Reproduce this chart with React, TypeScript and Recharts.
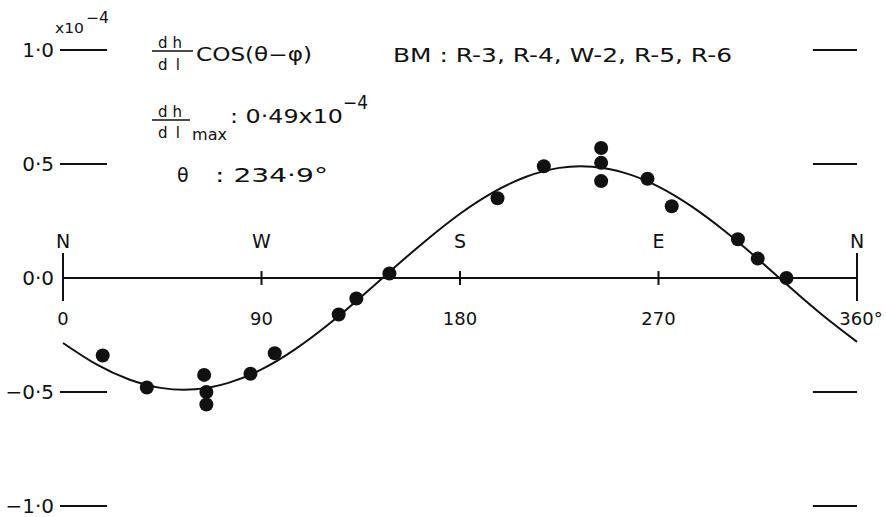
import React from 'react';
import {
  ComposedChart,
  Line,
  Scatter,
  XAxis,
  YAxis,
  ReferenceLine,
} from 'recharts';

// ---- data ----
const CURVE_THETA = [0, 15, 30, 45, 60, 75, 90, 105, 120, 135, 150, 165, 180, 195, 210, 225, 240, 255, 270, 285, 300, 315, 330, 345, 360];
const CURVE_VALUE = [-0.285, -0.378, -0.445, -0.483, -0.488, -0.46, -0.401, -0.314, -0.206, -0.084, 0.044, 0.168, 0.282, 0.376, 0.444, 0.483, 0.488, 0.46, 0.401, 0.314, 0.206, 0.084, -0.044, -0.168, -0.28];

const OBS_THETA = [18, 38, 64, 65, 65, 85, 96, 125, 133, 148, 197, 218, 244, 244, 244, 265, 276, 306, 315, 328];
const OBS_VALUE = [-0.34, -0.48, -0.425, -0.5, -0.555, -0.42, -0.33, -0.16, -0.09, 0.02, 0.35, 0.49, 0.57, 0.505, 0.425, 0.435, 0.315, 0.17, 0.085, 0.0];

const X_TICKS = [0, 90, 180, 270, 360];
const X_TICK_LABELS = ['0', '90', '180', '270', '360°'];
const COMPASS_LABELS = ['N', 'W', 'S', 'E', 'N'];

const Y_TICKS = [-1, -0.5, 0, 0.5, 1];
const Y_TICK_LABELS = ['−1·0', '−0·5', '0·0', '0·5', '1·0'];
const SIDE_MARKS = [-1, -0.5, 0.5, 1];

// ---- tables built from the arrays ----
const curveData = CURVE_THETA.map((t, i) => ({ theta: t, value: CURVE_VALUE[i] }));
const obsData = OBS_THETA.map((t, i) => ({ theta: t, value: OBS_VALUE[i] }));
const axisTickData = X_TICKS.map((t, i) => ({
  theta: t,
  value: 0,
  label: X_TICK_LABELS[i],
  compass: COMPASS_LABELS[i],
  end: i === 0 || i === X_TICKS.length - 1,
}));

const INK = '#111';
const FONT = '"DejaVu Sans", sans-serif';

const YTick = (props: any) => {
  const { x, y, payload } = props;
  const idx = Y_TICKS.indexOf(payload.value);
  const label = idx >= 0 ? Y_TICK_LABELS[idx] : '';
  return (
    <g>
      <text x={x - 9} y={y + 7} textAnchor="end" fontSize={20} fontFamily={FONT} fill={INK}>
        {label}
      </text>
      {payload.value !== 0 && (
        <line x1={x - 3} x2={x + 44} y1={y} y2={y} stroke={INK} strokeWidth={2} />
      )}
    </g>
  );
};

const AxisTickShape = (props: any) => {
  const { cx, cy, payload } = props;
  const up = payload.end ? 25 : 7;
  const down = payload.end ? 23 : 7;
  return (
    <g>
      <line x1={cx} x2={cx} y1={cy - up} y2={cy + down} stroke={INK} strokeWidth={2} />
      <text x={cx} y={cy - 30} textAnchor="middle" fontSize={19} fontFamily={FONT} fill={INK}>
        {payload.compass}
      </text>
      <text x={cx + (payload.label.endsWith('°') ? 4 : 0)} y={cy + 47} textAnchor="middle" fontSize={18} fontFamily={FONT} fill={INK}>
        {payload.label}
      </text>
    </g>
  );
};

const DotShape = (props: any) => {
  const { cx, cy } = props;
  return <circle cx={cx} cy={cy} r={7} fill={INK} />;
};

const Overlay = () => (
  <svg
    width={886}
    height={517}
    style={{ position: 'absolute', left: 0, top: 0, pointerEvents: 'none' }}
    fontFamily={FONT}
    fill={INK}
  >
    {/* unit */}
    <text x={55} y={33} fontSize={14} textLength={29} lengthAdjust="spacingAndGlyphs">x10</text>
    <text x={86} y={23} fontSize={15} textLength={23} lengthAdjust="spacingAndGlyphs">−4</text>

    {/* dh/dl cos(θ−φ) */}
    <text x={158} y={48} fontSize={15} textLength={24}>dh</text>
    <line x1={152} x2={193} y1={51} y2={51} stroke={INK} strokeWidth={1.6} />
    <text x={158} y={70} fontSize={15} textLength={22}>dl</text>
    <text x={196} y={61} fontSize={19} textLength={116} lengthAdjust="spacingAndGlyphs">COS(θ−φ)</text>

    <text x={393} y={62} fontSize={19} textLength={339} lengthAdjust="spacingAndGlyphs">BM : R-3, R-4, W-2, R-5, R-6</text>

    {/* dh/dl max */}
    <text x={158} y={117} fontSize={15} textLength={24}>dh</text>
    <line x1={152} x2={190} y1={120} y2={120} stroke={INK} strokeWidth={1.6} />
    <text x={158} y={138} fontSize={15} textLength={22}>dl</text>
    <text x={192} y={140} fontSize={16} textLength={35} lengthAdjust="spacingAndGlyphs">max</text>
    <text x={230} y={123} fontSize={19} textLength={113} lengthAdjust="spacingAndGlyphs">: 0·49x10</text>
    <text x={343} y={109} fontSize={19} textLength={25} lengthAdjust="spacingAndGlyphs">−4</text>

    {/* θ */}
    <text x={177} y={182} fontSize={19}>θ</text>
    <text x={215} y={182} fontSize={19} textLength={113} lengthAdjust="spacingAndGlyphs">: 234·9°</text>
  </svg>
);

export default function App() {
  return (
    <div
      style={{
        position: 'fixed',
        left: 0,
        top: 0,
        width: 886,
        height: 517,
        background: '#fff',
        overflow: 'hidden',
      }}
    >
      <ComposedChart
        width={886}
        height={517}
        margin={{ top: 50, right: 29, bottom: 11, left: 0 }}
      >
        <XAxis type="number" dataKey="theta" domain={[0, 360]} ticks={X_TICKS} hide />
        <YAxis
          type="number"
          domain={[-1, 1]}
          ticks={Y_TICKS}
          interval={0}
          width={63}
          axisLine={false}
          tickLine={false}
          tickSize={0}
          tickMargin={0}
          tick={<YTick />}
        />
        <ReferenceLine y={0} stroke={INK} strokeWidth={2} />
        {SIDE_MARKS.map((v) => (
          <ReferenceLine
            key={v}
            segment={[
              { x: 340, y: v },
              { x: 360, y: v },
            ]}
            stroke={INK}
            strokeWidth={2}
            ifOverflow="visible"
          />
        ))}
        <Line
          data={curveData}
          dataKey="value"
          type="natural"
          stroke={INK}
          strokeWidth={2}
          dot={false}
          activeDot={false}
          isAnimationActive={false}
        />
        <Scatter data={axisTickData} dataKey="value" shape={<AxisTickShape />} isAnimationActive={false} />
        <Scatter data={obsData} dataKey="value" shape={<DotShape />} isAnimationActive={false} />
      </ComposedChart>
      <Overlay />
    </div>
  );
}
